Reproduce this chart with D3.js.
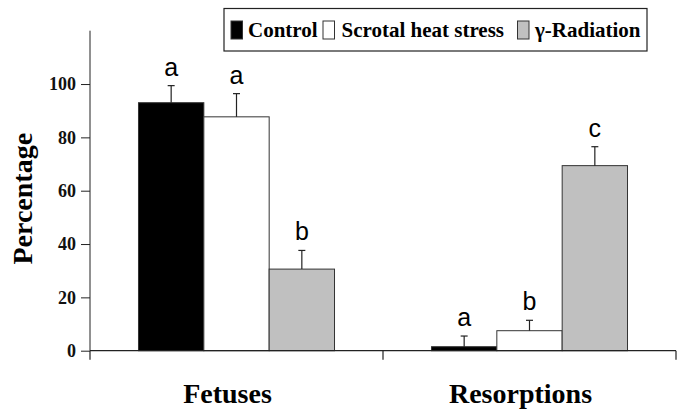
<!DOCTYPE html>
<html>
<head>
<meta charset="utf-8">
<title>Percentage of fetuses and resorptions</title>
<script src="https://cdnjs.cloudflare.com/ajax/libs/d3/7.8.5/d3.min.js"></script>
<style>
  body { margin: 0; background: #fff; }
  .serif { font-family: "Liberation Serif", "Times New Roman", serif; font-weight: bold; }
  .sans { font-family: "Liberation Sans", Arial, sans-serif; }
</style>
</head>
<body>
<script>
// data
var categories = ["Fetuses", "Resorptions"];
var groups = ["Control", "Scrotal heat stress", "\u03b3-Radiation"];
var groupColors = ["#000000", "#ffffff", "#c0c0c0"];
var meanValues = [
  [93, 87.7, 30.6],   // Fetuses
  [1.5, 7.5, 69.4]    // Resorptions
];
var errValues = [
  [6.4, 8.7, 7.0],
  [4.0, 3.9, 7.1]
];
var sigLetters = [
  ["a", "a", "b"],
  ["a", "b", "c"]
];
var yTicks = [0, 20, 40, 60, 80, 100];

var width = 685, height = 419;
var svg = d3.select("body").append("svg")
  .attr("width", width)
  .attr("height", height);

var x0 = d3.scaleBand().domain(categories).range([90, 676])
  .paddingInner(0.331).paddingOuter(0.1655);
var x1 = d3.scaleBand().domain(groups).range([0, x0.bandwidth()]);
var y = d3.scaleLinear().domain([0, 120]).range([350.7, 30.7]);

// bars
var rows = [];
categories.forEach(function(c, i) {
  groups.forEach(function(g, j) {
    rows.push({ cat: c, grp: g, j: j, v: meanValues[i][j], e: errValues[i][j], lab: sigLetters[i][j] });
  });
});

function cx(d) { return x0(d.cat) + x1(d.grp) + x1.bandwidth() / 2; }

var bar = svg.append("g").selectAll("g").data(rows).enter().append("g");

bar.append("rect")
  .attr("x", function(d) { return x0(d.cat) + x1(d.grp); })
  .attr("y", function(d) { return y(d.v); })
  .attr("width", x1.bandwidth())
  .attr("height", function(d) { return y(0) - y(d.v); })
  .attr("fill", function(d) { return groupColors[d.j]; })
  .attr("stroke", "#333")
  .attr("stroke-width", 1);

// error bars (upper only)
bar.append("line")
  .attr("x1", cx).attr("x2", cx)
  .attr("y1", function(d) { return y(d.v); })
  .attr("y2", function(d) { return y(d.v + d.e); })
  .attr("stroke", "#222").attr("stroke-width", 1.2);
bar.append("line")
  .attr("x1", function(d) { return cx(d) - 3.5; })
  .attr("x2", function(d) { return cx(d) + 3.5; })
  .attr("y1", function(d) { return y(d.v + d.e); })
  .attr("y2", function(d) { return y(d.v + d.e); })
  .attr("stroke", "#222").attr("stroke-width", 1.2);

// significance letters
bar.append("text")
  .attr("class", "sans")
  .attr("x", cx)
  .attr("y", function(d) { return y(d.v + d.e) - 10; })
  .attr("text-anchor", "middle")
  .attr("font-size", 25)
  .text(function(d) { return d.lab; });

// y axis
var yAxis = d3.axisLeft(y).tickValues(yTicks).tickSize(9).tickPadding(5);
var gy = svg.append("g").attr("transform", "translate(90,0)").call(yAxis)
  .attr("font-family", null).attr("font-size", null);
gy.select(".domain").attr("d", "M0," + y(120) + "V" + y(0)).attr("stroke", "#222");
gy.selectAll(".tick line").attr("stroke", "#222");
gy.selectAll(".tick text")
  .attr("class", "serif").attr("font-size", 18)
  .attr("fill", "#111");

// x axis line and ticks at band edges
var xEdges = [90, x0("Resorptions") - x0.step() * x0.paddingInner() / 2, 676];
svg.append("line")
  .attr("x1", 90).attr("x2", 676).attr("y1", y(0)).attr("y2", y(0))
  .attr("stroke", "#222").attr("stroke-width", 1.2);
svg.append("g").selectAll("line").data(xEdges).enter().append("line")
  .attr("x1", function(d) { return d; }).attr("x2", function(d) { return d; })
  .attr("y1", y(0)).attr("y2", y(0) + 9)
  .attr("stroke", "#222").attr("stroke-width", 1.2);

// category labels
svg.append("g").selectAll("text").data(categories).enter().append("text")
  .attr("class", "serif")
  .attr("x", function(d) { return x0(d) + x0.bandwidth() / 2 - 9; })
  .attr("y", 403)
  .attr("text-anchor", "middle")
  .attr("font-size", 28)
  .text(function(d) { return d; });

// y title
svg.append("text")
  .attr("class", "serif")
  .attr("transform", "translate(32," + y(57) + ") rotate(-90)")
  .attr("text-anchor", "middle")
  .attr("font-size", 28)
  .text("Percentage");

// legend
var legend = svg.append("g");
legend.append("rect")
  .attr("x", 224).attr("y", 8.5).attr("width", 423).attr("height", 42.5)
  .attr("fill", "#fff").attr("stroke", "#222").attr("stroke-width", 1.2);
var legX = [231, 323, 517.5];
var legTextX = [248, 341.5, 535];
groups.forEach(function(g, j) {
  legend.append("rect")
    .attr("x", legX[j]).attr("y", 21).attr("width", 11.5).attr("height", 18)
    .attr("fill", groupColors[j]).attr("stroke", "#333").attr("stroke-width", 1);
  legend.append("text")
    .attr("class", "serif")
    .attr("x", legTextX[j]).attr("y", 36.5)
    .attr("font-size", 21)
    .text(g);
});
</script>
</body>
</html>
